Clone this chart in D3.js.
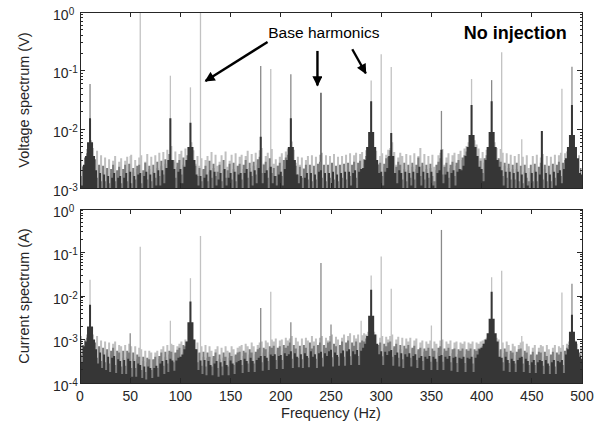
<!DOCTYPE html>
<html><head><meta charset="utf-8">
<script src="https://cdn.jsdelivr.net/npm/d3@7/dist/d3.min.js"></script>
<style>
body{margin:0;background:#fff}
svg{display:block}
text{font-family:"Liberation Sans",Arial,Helvetica,sans-serif;fill:#262626}
</style>
</head><body>
<svg id="chart" width="605" height="426"></svg>
<script>
// ---------------- DATA ----------------
const binStepHz = 2;                 // spectrum bins every 2 Hz, 0..500 Hz
const xTickValues = [0,50,100,150,200,250,300,350,400,450,500];
const voltExponents = [-3,-2,-1,0];
const currExponents = [-4,-3,-2,-1,0];

// Voltage spectrum noise layers (values in mV)
const voltLight_mV = [
4.0,2.4,3.1,4.6,5.2,6.5,4.8,3.0,4.3,2.2, 3.6,1.9,3.3,2.0,3.1,1.8,2.9,3.5,1.9,2.8,
3.2,1.8,2.9,3.4,2.0,3.7,1.9,3.0,2.1,3.3, 3.6,1.8,2.8,3.8,2.1,3.4,1.9,3.6,2.2,4.0,
2.4,4.1,2.6,4.5,3.0,5.2,2.8,4.2,2.3,3.8, 4.3,2.5,4.7,3.0,5.0,6.0,4.4,2.6,3.5,2.4,
3.2,2.0,3.0,3.5,1.9,4.1,2.2,3.7,2.4,2.8, 3.6,2.0,4.2,2.3,2.9,3.7,2.1,3.9,1.9,3.4,
3.7,2.1,3.5,4.3,2.2,3.8,2.4,4.0,2.5,4.4, 4.8,2.6,3.5,4.0,2.2,4.6,2.6,3.1,2.4,3.4,
3.9,2.4,4.2,4.7,5.0,6.2,4.5,2.7,3.4,2.5, 3.3,2.2,3.0,3.5,2.1,3.6,2.0,3.4,2.1,3.7,
4.0,2.2,3.6,2.0,3.5,2.2,3.8,2.1,3.4,2.0, 3.5,2.2,3.7,2.1,3.9,2.4,3.6,4.0,2.2,3.8,
4.1,2.6,4.4,4.9,6.5,7.5,5.0,4.3,2.6,3.5, 3.9,2.3,3.7,4.5,4.8,6.0,4.1,2.5,3.3,4.0,
3.5,2.1,3.8,2.0,3.6,2.3,3.9,2.1,3.5,4.8, 2.4,3.8,2.1,3.5,2.2,3.7,2.3,2.0,3.6,4.0,
4.6,2.5,3.3,3.9,2.2,3.6,4.0,2.4,3.8,4.3, 3.0,4.7,5.2,6.0,7.0,8.0,6.5,5.5,4.7,3.2,
4.1,2.7,4.5,5.0,6.2,7.5,6.0,4.8,3.0,4.6, 4.0,2.4,3.9,2.2,3.7,2.1,3.5,2.1,3.8,2.0,
3.4,1.9,3.6,2.2,1.9,3.5,2.0,3.7,1.9,3.3, 3.8,2.1,3.5,1.9,3.4,2.0,3.7,2.2,3.6,4.0,
2.4,3.9,4.2,2.6,4.6,5.5,4.5,2.8,3.6,2.2, 3.1];
const voltMid_mV = [
2.8,1.6,2.3,3.3,3.9,5.0,3.6,1.9,3.1,1.5, 2.5,1.3,2.4,1.3,2.2,1.2,2.1,2.5,1.3,2.0,
2.3,1.2,2.1,2.5,1.3,2.6,1.2,2.2,1.4,2.4, 2.5,1.2,2.0,2.7,1.4,2.4,1.3,2.5,1.5,2.8,
1.6,2.9,1.7,3.1,2.1,3.8,1.9,3.0,1.5,2.7, 3.0,1.7,3.3,2.1,3.6,4.5,3.1,1.8,2.4,1.6,
2.2,1.3,2.1,2.4,1.3,2.9,1.5,2.6,1.6,1.9, 2.5,1.3,3.0,1.5,2.0,2.6,1.4,2.7,1.3,2.4,
2.6,1.4,2.5,3.0,1.5,2.7,1.6,2.8,1.7,3.1, 3.4,1.8,2.5,2.8,1.5,3.2,1.8,2.2,1.6,2.4,
2.7,1.6,3.0,3.3,3.7,4.8,3.2,1.8,2.4,1.7, 2.3,1.5,2.1,2.5,1.4,2.5,1.3,2.4,1.4,2.6,
2.8,1.5,2.5,1.3,2.5,1.5,2.7,1.4,2.4,1.3, 2.5,1.5,2.6,1.4,2.7,1.6,2.5,2.8,1.5,2.7,
2.9,1.8,3.1,3.5,4.8,5.8,3.6,3.0,1.8,2.5, 2.7,1.6,2.6,3.2,3.4,4.4,2.9,1.7,2.3,2.8,
2.5,1.4,2.7,1.3,2.5,1.5,2.7,1.4,2.5,3.3, 1.6,2.7,1.4,2.5,1.5,2.6,1.6,1.3,2.5,2.8,
3.2,1.7,2.3,2.7,1.5,2.5,2.8,1.6,2.7,3.0, 2.1,3.3,3.6,4.2,5.0,6.0,4.6,3.9,3.3,2.2,
2.9,1.8,3.2,3.6,4.5,5.5,4.2,3.4,2.1,3.2, 2.8,1.6,2.7,1.5,2.6,1.4,2.5,1.4,2.7,1.3,
2.4,1.2,2.5,1.5,1.3,2.5,1.3,2.6,1.3,2.3, 2.7,1.4,2.5,1.3,2.4,1.3,2.6,1.5,2.5,2.8,
1.6,2.7,3.0,1.8,3.3,4.0,3.2,1.9,2.5,1.5, 2.2];
const voltDark_mV = [
2.0,1.1,2.5,3.5,6.0,15.5,6.0,3.5,2.0,1.0, 1.8,1.0,1.7,0.9,1.6,1.0,1.5,1.8,0.9,1.5,
1.6,0.9,1.5,1.8,1.0,1.9,0.9,1.6,1.0,1.7, 1.8,0.9,1.6,1.9,1.0,1.7,0.9,1.8,1.1,2.0,
1.1,2.0,1.2,2.2,3.0,15.5,3.0,2.1,1.0,1.9, 2.1,1.2,2.3,3.0,5.0,13.0,5.0,3.0,1.7,1.1,
1.6,1.0,1.5,1.7,0.9,2.0,1.0,1.9,1.1,1.4, 1.8,1.0,2.1,1.1,1.5,1.8,1.0,1.9,0.9,1.7,
1.8,1.0,1.8,2.1,1.0,1.9,1.1,2.0,1.2,2.2, 7.5,1.2,1.8,2.0,1.0,2.3,1.2,1.6,1.1,1.7,
1.9,1.1,2.1,3.0,5.0,15.5,5.0,3.0,1.7,1.2, 1.6,1.0,1.5,1.8,1.0,1.8,0.9,1.7,1.0,1.9,
2.0,1.0,1.8,0.9,1.8,1.0,1.9,1.0,1.7,0.9, 1.8,1.0,1.9,1.0,1.9,1.1,1.8,2.0,1.0,1.9,
2.1,2.2,3.0,5.0,9.0,30,9.0,5.0,3.0,1.8, 1.9,1.1,1.9,2.2,3.5,8.7,3.5,1.8,1.2,2.0,
1.8,1.0,1.9,0.9,1.8,1.1,1.9,1.0,1.8,2.3, 1.1,1.9,1.0,1.8,1.0,1.9,1.1,0.9,1.8,2.0,
4.5,1.2,1.7,1.9,1.0,1.8,2.0,1.1,1.9,2.1, 2.0,2.4,3.5,5.0,8.0,26,8.0,5.0,3.5,2.3,
2.1,1.3,3.0,5.0,9.0,30,9.0,5.0,3.0,2.3, 2.0,1.1,1.9,1.0,1.9,1.0,1.8,1.0,1.9,0.9,
1.7,0.9,1.8,1.1,0.9,1.8,1.0,1.9,0.9,1.7, 9.4,1.0,1.8,0.9,1.7,1.0,1.9,1.1,1.8,2.0,
1.2,2.1,3.2,5.0,8.0,26,8.0,5.0,3.2,1.8, 1.7];

// Voltage spectrum harmonic lines
const voltHarmFreq  = [10,   50,    60,  90,    110,   120, 180,  190,   210,   240,   290,   300,  310,   360,    390,   410,   420,   440,    460,    480,   490];
const voltHarmValue = [0.059,0.0035,1.0, 0.082, 0.052, 1.0, 0.12, 0.107, 0.087, 0.042, 0.068, 0.19, 0.116, 0.0206, 0.072, 0.069, 0.206, 0.0068, 0.0094, 0.049, 0.117];
const voltHarmShade = ["mid","light","light","light","light","light","mid","light","mid","dark","light","light","light","mid","light","mid","light","light","mid","light","mid"];

// Current spectrum noise layers (values in units of 1e-4 A)
const currLight_e4 = [
12,7,10,13,14,18,13,8,12,6, 9.5,5,9,4.8,8.5,4.5,8,9,4.2,7.5,
7,3.8,7.5,4,8,7,3.6,7,3.5,6.5, 6,3.2,5.5,3,5.5,5,3.4,5,5.5,3.6,
6,7,4,7.5,4.5,8,7.5,4.8,7,8, 9,5,10,9,11,13,10,5.5,8.5,4.8,
7,4,7.5,3.8,7,5.5,3.8,6,7,3.6, 6.5,3.8,7,5.5,3.8,7,6,4.2,6.5,7,
7.5,4.2,8,7,4.5,8.5,7,4.6,7.5,8.5, 9,5,9.5,8.5,5.2,10,9,10.5,5.5,9.5,
10,5.5,11,9.5,10.5,12,5.8,11,9,6, 10.5,5.6,11,9.5,6,12,9,10.5,5.8,11,
12,6,11,9.5,12,13,6.2,11.5,10,6.4, 11,13,6.4,12,14,6.5,12.5,10.5,13,6.6,
12.5,14,13,15,16,20,15,13,7,11, 12,6.5,11.5,10,12,13,6.4,10,11.5,6,
11,5.6,10.5,9,11,6,9.5,10.5,5.5,8.5, 9.5,5.2,9,8,9.5,5,9,8,5,9.5,
10,5,9,8,9.5,4.8,8.5,9,4.6,8.5, 8,9,4.6,8.5,8,9,4.5,8.5,8,9,
9.5,10,11,12,14,18,13,11,10,5.5, 8.5,4.8,9,7.5,4.6,8,7,4.4,7.5,8.5,
9,4.4,8,7,4.2,6.5,7.5,4.2,6.5,7.5, 7,4,7.5,6,4,6.5,7.5,3.9,7,6.5,
7.5,4.2,8,9,10,12,9.5,8,4.5,7, 6.5];
const currMid_e4 = [
8.5,4.5,7.5,9.5,11,14,10,5,8.5,3.8, 7,3.2,6.5,3,6,2.8,5.5,6.5,2.6,5.5,
5,2.4,5.5,2.5,5.5,5,2.2,5,2.2,4.5, 4,2,4,1.8,3.8,3.5,2,3.5,4,2.2,
4.2,5,2.5,5.2,2.8,5.5,5.2,3,5,5.8, 6.5,3.2,7.5,7,8.5,10,7.5,3.4,6,3,
5,2.5,5.2,2.4,5,4,2.4,4.2,5,2.2, 4.5,2.4,5,4,2.4,5,4.2,2.6,4.5,5,
5.2,2.6,5.5,5,2.8,6,5,2.8,5.2,6, 6.5,3,6.5,6,3.2,7,6.5,7.2,3.4,6.5,
7,3.4,7.5,6.5,7.2,8.5,3.6,7.5,6.2,3.8, 7.2,3.5,7.5,6.5,3.8,8.5,6.2,7.2,3.6,7.5,
8.5,3.8,7.5,6.5,8.5,9,3.9,8,7,4, 7.5,9,4,8.5,9.5,4.1,8.5,7.2,9,4.2,
8.5,9.5,9,10.5,12,15,11,9,4.4,7.5, 8.5,4.1,8,7,8.5,9,4,7,8,3.8,
7.5,3.5,7.2,6.2,7.5,3.8,6.5,7.2,3.4,6, 6.5,3.2,6.2,5.5,6.5,3.1,6.2,5.5,3.1,6.5,
7,3.1,6.2,5.5,6.5,3,6,6.2,2.9,6, 5.5,6.2,2.9,6,5.5,6.2,2.8,6,5.5,6.2,
6.5,7,8,9,10.5,14,10,8,7,3.4, 6,3,6.2,5.2,2.9,5.5,5,2.8,5.2,6,
6.2,2.8,5.5,5,2.6,4.5,5.2,2.6,4.5,5.2, 5,2.5,5.2,4.2,2.5,4.5,5.2,2.4,5,4.5,
5.2,2.6,5.5,6.5,7.5,9,7,5.5,2.8,5, 4.5];
const currDark_e4 = [
6,3,7,9,20,63,20,10,6,2.8, 5,2.2,4.5,2,4,1.8,3.8,4.2,1.7,3.5,
3.2,1.6,3.4,1.6,3.6,3.2,1.4,3.2,1.4,2.8, 2.6,1.3,2.4,1.2,2.4,2.2,1.3,2.2,2.5,1.4,
2.8,3.2,1.6,3.4,1.8,3.6,3.3,1.9,3.3,3.8, 4,4.5,6,9,25,75,25,10,6,2,
3.3,1.6,3.4,1.5,3.2,2.6,1.5,2.8,3.2,1.4, 3,1.5,3.2,2.6,1.5,3.3,2.8,1.6,3,3.2,
3.4,1.7,3.6,3.2,1.8,3.8,3.2,1.8,3.4,3.8, 4.2,1.9,4.2,3.8,2,4.5,4.2,4.6,2.1,4.2,
4.4,2.1,4.8,4.2,4.6,5.4,2.2,4.8,4,2.3, 4.6,2.2,4.8,4.2,2.3,5.4,4,4.6,2.2,4.8,
5.2,2.4,4.8,4.2,5.4,5.8,2.4,5,4.4,2.5, 4.8,5.6,2.5,5.4,6,2.6,5.4,4.6,5.7,2.6,
5.5,6.5,8,12,35,139,35,13,8,4.6, 5.4,2.6,5.2,4.4,5.4,5.7,2.5,4.4,5,2.4,
4.8,2.2,4.6,4,4.8,2.4,4.2,4.6,2.2,3.8, 4.2,2,4,3.6,4.2,2,4,3.6,2,4.2,
4.4,2,4,3.6,4.2,1.9,3.8,4,1.8,3.8, 3.6,4,1.8,3.8,3.6,4,1.8,3.8,4.5,6,
6.5,8,10,14,30,126,30,14,9,4, 3.8,1.9,4,3.4,1.8,3.6,3.2,1.8,3.4,3.8,
4,1.8,3.6,3.2,1.7,3,3.4,1.7,3,3.4, 3.2,1.6,3.4,2.8,1.6,3,3.4,1.6,3.2,3,
3.4,1.7,4.5,6,15,37,15,9,6,4, 3.6];

// Current spectrum harmonic lines
const currHarmFreq  = [10,    50,     60,    90,     110,    120,  180,    190,    210,    240,   250,    280,    290,    300,   310,    350,    360,  410,   420,   440,    480,   490];
const currHarmValue = [0.0235,0.0014, 0.136, 0.0027, 0.0257, 0.24, 0.0053, 0.0126, 0.0025, 0.057, 0.0022, 0.0027, 0.0295, 0.081, 0.0146, 0.0021, 0.33, 0.027, 0.038, 0.0012, 0.012, 0.019];
const currHarmShade = ["light","mid","light","light","light","light","mid","light","mid","mid","mid","light","light","light","light","light","mid","light","light","light","light","mid"];

// Annotation: arrows in (Hz, V) coordinates of the voltage panel
const arrowTailHz = [186.8, 236.5, 271.2];
const arrowTailV  = [0.308, 0.217, 0.232];
const arrowTipHz  = [125.0, 236.5, 284.6];
const arrowTipV   = [0.0668, 0.056, 0.0903];

// ---------------- DRAWING ----------------
const svg = d3.select("#chart");
const shadeColor = {light:"#c2c2c2", mid:"#8a8a8a", dark:"#3a3a3a"};
const layerColor = {light:"#c0c0c0", mid:"#7c7c7c", dark:"#363636"};
const layerOffsetHz = {light:1, mid:-1, dark:0};
const axisColor = "#262626";

const x = d3.scaleLinear().domain([0,500]).range([80,582]);

function drawPanel(cfg){
  const y = d3.scaleLog().domain([cfg.yMin, 1]).range([cfg.bottom, cfg.top]);
  const g = svg.append("g");
  const clipId = "clip" + cfg.id;
  svg.append("defs").append("clipPath").attr("id", clipId)
    .append("rect").attr("x", x(0)).attr("y", cfg.top)
    .attr("width", x(500)-x(0)).attr("height", cfg.bottom-cfg.top);
  const plot = g.append("g").attr("clip-path", `url(#${clipId})`);

  const yv = v => y(Math.max(v, cfg.yMin));

  function layer(values, name){
    const area = d3.area().curve(d3.curveStep)
      .x((d,i) => x(i*binStepHz + layerOffsetHz[name]))
      .y0(cfg.bottom)
      .y1(d => yv(d*cfg.unit));
    plot.append("path").datum(values).attr("d", area).attr("fill", layerColor[name]);
  }

  layer(cfg.light, "light");
  plot.selectAll("line.h").data(cfg.hFreq).enter().append("line")
    .attr("x1", d => x(d)).attr("x2", d => x(d))
    .attr("y1", cfg.bottom).attr("y2", (d,i) => yv(cfg.hVal[i]))
    .attr("stroke", (d,i) => shadeColor[cfg.hShade[i]])
    .attr("stroke-width", 1.3);
  layer(cfg.mid, "mid");
  layer(cfg.dark, "dark");

  g.append("rect").attr("x", x(0)).attr("y", cfg.top)
    .attr("width", x(500)-x(0)).attr("height", cfg.bottom-cfg.top)
    .attr("fill","none").attr("stroke", axisColor).attr("stroke-width", 1)
    .attr("shape-rendering","crispEdges");

  const tk = g.append("g").attr("stroke", axisColor).attr("stroke-width",1).attr("shape-rendering","crispEdges");
  xTickValues.forEach(t => {
    tk.append("line").attr("x1",x(t)).attr("x2",x(t)).attr("y1",cfg.bottom).attr("y2",cfg.bottom-5);
    tk.append("line").attr("x1",x(t)).attr("x2",x(t)).attr("y1",cfg.top).attr("y2",cfg.top+5);
  });
  cfg.exps.forEach((e, idx) => {
    const v = Math.pow(10, e);
    [[x(0),1],[x(500),-1]].forEach(([bx,dir]) => {
      tk.append("line").attr("x1",bx).attr("x2",bx+dir*5).attr("y1",y(v)).attr("y2",y(v));
    });
    if (idx < cfg.exps.length-1) {
      for (let k=2;k<=9;k++){
        const mv = k*v;
        [[x(0),1],[x(500),-1]].forEach(([bx,dir]) => {
          tk.append("line").attr("x1",bx).attr("x2",bx+dir*2.5).attr("y1",y(mv)).attr("y2",y(mv));
        });
      }
    }
    const ty = y(v);
    g.append("text").attr("x", 68.5).attr("y", ty+7.5).attr("text-anchor","end")
      .attr("font-size",14).text("10");
    g.append("text").attr("x", 68.8).attr("y", ty+2.5).attr("text-anchor","start")
      .attr("font-size",10).text(String(e));
  });

  if (cfg.showXLabels){
    xTickValues.forEach(t => {
      g.append("text").attr("x", x(t)).attr("y", cfg.bottom+18).attr("text-anchor","middle")
        .attr("font-size",14).text(t);
    });
    g.append("text").attr("x", (x(0)+x(500))/2).attr("y", cfg.bottom+35).attr("text-anchor","middle")
      .attr("font-size",14.5).text("Frequency (Hz)");
  }
  g.append("text").attr("transform", `translate(28.5,${(cfg.top+cfg.bottom)/2}) rotate(-90)`)
    .attr("text-anchor","middle").attr("font-size",14.5).text(cfg.yLabel);
  return y;
}

const yV = drawPanel({id:"v", top:12, bottom:188, yMin:1e-3, unit:1e-3,
  light:voltLight_mV, mid:voltMid_mV, dark:voltDark_mV,
  hFreq:voltHarmFreq, hVal:voltHarmValue, hShade:voltHarmShade,
  exps:voltExponents, yLabel:"Voltage spectrum (V)", showXLabels:false});

const yA = drawPanel({id:"a", top:209, bottom:383, yMin:1e-4, unit:1e-4,
  light:currLight_e4, mid:currMid_e4, dark:currDark_e4,
  hFreq:currHarmFreq, hVal:currHarmValue, hShade:currHarmShade,
  exps:currExponents, yLabel:"Current spectrum (A)", showXLabels:true});

svg.append("text").attr("x", x(187.5)).attr("y", yV(0.354)).attr("font-size",15.5)
  .style("fill","#000").text("Base harmonics");
svg.append("text").attr("x", x(484.8)).attr("y", yV(0.347)).attr("font-size",18)
  .attr("font-weight","bold").attr("text-anchor","end").style("fill","#000").text("No injection");

const defs = svg.append("defs");
defs.append("marker").attr("id","ah").attr("viewBox","0 0 10 10").attr("refX",9).attr("refY",5)
  .attr("markerWidth",5).attr("markerHeight",4.2).attr("markerUnits","strokeWidth").attr("orient","auto")
  .append("path").attr("d","M0,0 L10,5 L0,10 Z").attr("fill","#000");

arrowTailHz.forEach((f,i) => {
  svg.append("line")
    .attr("x1", x(f)).attr("y1", yV(arrowTailV[i]))
    .attr("x2", x(arrowTipHz[i])).attr("y2", yV(arrowTipV[i]))
    .attr("stroke","#000").attr("stroke-width",2.4).attr("marker-end","url(#ah)");
});
</script>
</body></html>
